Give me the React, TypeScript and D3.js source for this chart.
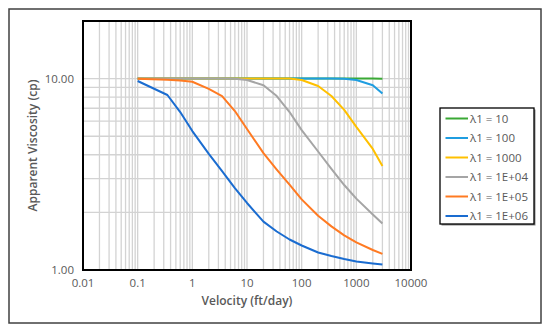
import React from 'react';
import * as d3 from 'd3';

// velocity (ft/day) sample points shared by all series
const velocity = [0.1, 0.35, 0.6, 1, 2, 3.5, 6, 10, 20, 35, 60, 100, 200, 350, 600, 1000, 2000, 3000];

// apparent viscosity (cp) for each lambda1
const lambda10 = [10, 10, 10, 10, 10, 10, 10, 10, 10, 10, 10, 10, 10, 10, 10, 10, 10, 9.98];
const lambda100 = [10, 10, 10, 10, 10, 10, 10, 10, 10, 10, 10, 10, 10, 10, 9.98, 9.83, 9.24, 8.36];
const lambda1000 = [10, 10, 10, 10, 10, 10, 10, 10, 10, 10, 10, 9.83, 9.15, 8.11, 6.86, 5.59, 4.29, 3.49];
const lambda1e4 = [10, 10, 10, 10, 10, 10, 9.98, 9.83, 9.24, 8.11, 6.69, 5.38, 4.16, 3.38, 2.78, 2.36, 1.95, 1.75];
const lambda1e5 = [9.98, 9.86, 9.77, 9.63, 8.83, 8.11, 6.77, 5.45, 4.08, 3.35, 2.79, 2.34, 1.92, 1.69, 1.518, 1.395, 1.272, 1.215];
const lambda1e6 = [9.72, 8.21, 6.69, 5.32, 4.04, 3.29, 2.68, 2.24, 1.79, 1.589, 1.443, 1.343, 1.234, 1.183, 1.141, 1.108, 1.081, 1.068];

const seriesNames = ['λ1 = 10', 'λ1 = 100', 'λ1 = 1000', 'λ1 = 1E+04', 'λ1 = 1E+05', 'λ1 = 1E+06'];
const seriesValues = [lambda10, lambda100, lambda1000, lambda1e4, lambda1e5, lambda1e6];
const colors = ['#3aa935', '#1f9de0', '#ffc000', '#a5a5a5', '#ff7a22', '#1a6cd0'];

const xTicks = [0.01, 0.1, 1, 10, 100, 1000, 10000];
const yTicks = [1, 10];

const W = 550;
const H = 334;
const left = 83, right = 411, top = 21, bottom = 270;
const textColor = '#595959';
const font = '"Open Sans", "Noto Sans", sans-serif';

const App: React.FC = () => {
  const x = d3.scaleLog().domain([0.01, 10000]).range([left, right]);
  const y = d3.scaleLog().domain([1, 20]).range([bottom, top]);

  // minor grid: 1..9 times each decade
  const xGrid: number[] = [];
  for (let e = -2; e < 4; e++) {
    for (let m = 1; m <= 9; m++) xGrid.push(m * Math.pow(10, e));
  }
  const yGrid = [2, 3, 4, 5, 6, 7, 8, 9, 10];

  const line = d3
    .line<[number, number]>()
    .x((d) => x(d[0]))
    .y((d) => y(d[1]));

  const legendX = 440, legendY = 108, legendW = 94, legendH = 116;

  return (
    <svg width={W} height={H} style={{ position: 'absolute', left: 0, top: 0, background: '#fff' }} fontFamily={font}>
      <rect x={9} y={9} width={532} height={314} fill="#fff" stroke="#404040" strokeWidth={1.5} />

      {/* grid */}
      <g stroke="#d3d3d3" strokeWidth={1.3}>
        {xGrid.map((v, i) => (
          <line key={'gx' + i} x1={x(v)} x2={x(v)} y1={top} y2={bottom} />
        ))}
        {yGrid.map((v, i) => (
          <line key={'gy' + i} x1={left} x2={right} y1={y(v)} y2={y(v)} />
        ))}
      </g>

      {/* series */}
      {seriesValues.map((vals, i) => (
        <path
          key={'s' + i}
          d={line(velocity.map((v, j) => [v, vals[j]] as [number, number])) || ''}
          fill="none"
          stroke={colors[i]}
          strokeWidth={2}
          strokeLinejoin="round"
        />
      ))}

      {/* plot frame */}
      <rect x={left} y={top} width={right - left} height={bottom - top} fill="none" stroke="#000" strokeWidth={2} />

      {/* tick labels */}
      <g fill={textColor} fontSize={11.5}>
        {xTicks.map((t) => (
          <text key={'xt' + t} x={x(t)} y={bottom + 17} textAnchor="middle">
            {String(t)}
          </text>
        ))}
        {yTicks.map((t) => (
          <text key={'yt' + t} x={left - 9} y={y(t) + 4} textAnchor="end">
            {t.toFixed(2)}
          </text>
        ))}
      </g>

      {/* axis titles */}
      <text x={(left + right) / 2} y={305} textAnchor="middle" fill={textColor} fontSize={12} fontWeight={600}>
        Velocity (ft/day)
      </text>
      <text
        transform={`translate(37, ${(top + bottom) / 2}) rotate(-90)`}
        textAnchor="middle"
        fill={textColor}
        fontSize={12}
        fontWeight={600}
      >
        Apparent Viscosity (cp)
      </text>

      {/* legend */}
      <rect x={legendX + 1.5} y={legendY + 1.5} width={legendW} height={legendH} fill="#888" />
      <rect x={legendX} y={legendY} width={legendW} height={legendH} fill="#fff" stroke="#000" strokeWidth={1.3} />
      {seriesNames.map((name, i) => {
        const ly = legendY + 10.5 + i * 19.5;
        return (
          <g key={'l' + i}>
            <line x1={legendX + 5.5} x2={legendX + 28} y1={ly} y2={ly} stroke={colors[i]} strokeWidth={2} />
            <text x={legendX + 30} y={ly + 4} fill={textColor} fontSize={11.5}>
              {name}
            </text>
          </g>
        );
      })}
    </svg>
  );
};

export default App;
